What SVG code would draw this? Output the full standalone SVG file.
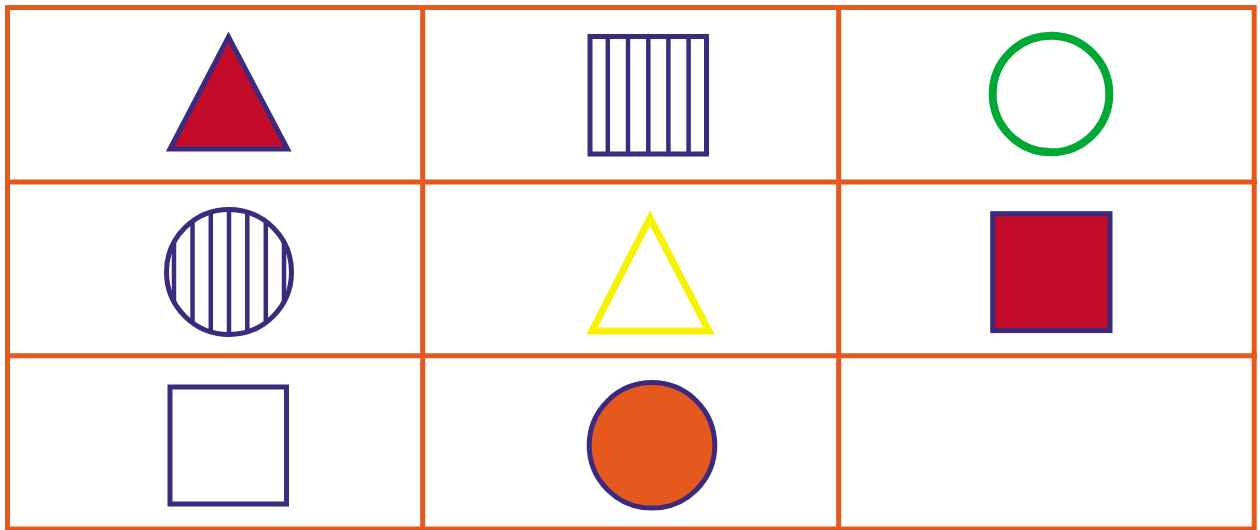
<svg xmlns="http://www.w3.org/2000/svg" width="1260" height="530" viewBox="0 0 1260 530">
<style>
.grid{stroke:#E5591F;stroke-width:5;fill:none}
.pur{stroke:#3C2A7E;stroke-width:5}
.stripe{stroke:#3C2A7E;stroke-width:4.5}
</style>
<defs>
<clipPath id="cc"><circle cx="229" cy="272" r="62"/></clipPath>
</defs>
<rect width="1260" height="530" fill="#fff"/>
<g id="grid">
<rect class="grid" x="7.5" y="7.5" width="1246.7" height="521.5"/>
<line class="grid" x1="422.7" y1="5" x2="422.7" y2="532"/>
<line class="grid" x1="838.7" y1="5" x2="838.7" y2="532"/>
<line class="grid" x1="5" y1="182" x2="1257" y2="182"/>
<line class="grid" x1="5" y1="355.8" x2="1257" y2="355.8"/>
</g>
<g id="red-triangle">
<polygon class="pur" points="170,149 228.5,37 287.5,149" fill="#C40C2A"/>
</g>
<g id="striped-square">
<rect class="pur" x="590" y="36.5" width="116.5" height="117.5" fill="#fff"/>
<g class="stripe">
<line x1="607.8" y1="36.5" x2="607.8" y2="154"/>
<line x1="628" y1="36.5" x2="628" y2="154"/>
<line x1="648.3" y1="36.5" x2="648.3" y2="154"/>
<line x1="668.4" y1="36.5" x2="668.4" y2="154"/>
<line x1="688.6" y1="36.5" x2="688.6" y2="154"/>
</g>
</g>
<g id="green-circle">
<circle cx="1051" cy="94" r="58.3" fill="none" stroke="#00A935" stroke-width="8"/>
</g>
<g id="striped-circle">
<circle cx="229" cy="272" r="62.5" fill="#fff"/>
<g class="stripe" clip-path="url(#cc)">
<line x1="174" y1="200" x2="174" y2="345"/>
<line x1="192.5" y1="200" x2="192.5" y2="345"/>
<line x1="210.8" y1="200" x2="210.8" y2="345"/>
<line x1="229" y1="200" x2="229" y2="345"/>
<line x1="247.3" y1="200" x2="247.3" y2="345"/>
<line x1="265.8" y1="200" x2="265.8" y2="345"/>
<line x1="284" y1="200" x2="284" y2="345"/>
</g>
<circle class="pur" cx="229" cy="272" r="62.5" fill="none"/>
</g>
<g id="yellow-triangle">
<polygon points="592,331 650,218 709,331" fill="none" stroke="#F6F200" stroke-width="7"/>
</g>
<g id="red-square">
<rect class="pur" x="992.7" y="213.7" width="117.3" height="116.8" fill="#C40C2A"/>
</g>
<g id="white-square">
<rect class="pur" x="170" y="387" width="116.5" height="117" fill="#fff"/>
</g>
<g id="orange-circle">
<circle class="pur" cx="652" cy="445.3" r="62.8" fill="#E5581E"/>
</g>
<g id="connectors"/>
</svg>
